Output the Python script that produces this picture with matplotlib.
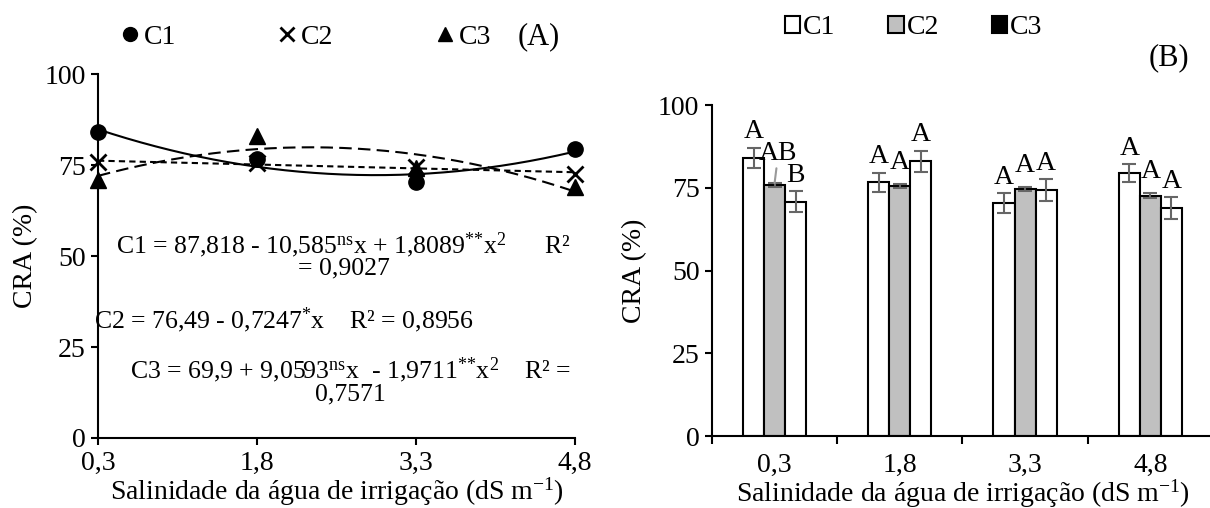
import numpy as np
import matplotlib
matplotlib.use("Agg")
import matplotlib.pyplot as plt
from matplotlib.lines import Line2D
from matplotlib.patches import Patch

plt.rcParams['font.family'] = ['Liberation Serif', 'DejaVu Serif']
plt.rcParams['mathtext.fontset'] = 'custom'
plt.rcParams['mathtext.rm'] = 'Liberation Serif'
plt.rcParams['mathtext.it'] = 'Liberation Serif:italic'
plt.rcParams['font.size'] = 20

# --- data ---
salinity = [0.3, 1.8, 3.3, 4.8]
tick_labels = ['0,3', '1,8', '3,3', '4,8']
series = ['C1', 'C2', 'C3']

c1 = [84.1, 76.6, 70.4, 79.4]
c2 = [75.8, 75.5, 74.5, 72.6]
c3 = [70.8, 83.0, 74.3, 68.9]

c1_err = [3.0, 2.9, 2.9, 2.8]
c2_err = [0.6, 0.6, 0.6, 0.7]
c3_err = [3.2, 3.2, 3.2, 3.2]

c1_letters = ['A', 'A', 'A', 'A']
c2_letters = ['AB', 'A', 'A', 'A']
c3_letters = ['B', 'A', 'A', 'A']

eq_c1 = r"C1 = 87,818 - 10,585$^{\mathrm{ns}}$x + 1,8089$^{{*}{*}}$x$^{2}$      R²"
eq_c1b = "= 0,9027"
eq_c2 = r"C2 = 76,49 - 0,7247$^{*}$x    R² = 0,8956"
eq_c3 = r"C3 = 69,9 + 9,0593$^{\mathrm{ns}}$x  - 1,9711$^{{*}{*}}$x$^{2}$    R² ="
eq_c3b = "0,7571"
x_title = "Salinidade da água de irrigação (dS m$^{\\mathrm{-1}}$)"

fig = plt.figure(figsize=(12.1, 5.08), dpi=100)

# ---------------- panel A: scatter + trend lines ----------------
ax1 = fig.add_axes([0.081, 0.1378, 0.3942, 0.7165])
xs = np.linspace(0.3, 4.8, 200)
fit1 = np.polyfit(salinity, c1, 2)
fit2 = np.polyfit(salinity, c2, 1)
fit3 = np.polyfit(salinity, c3, 2)
ax1.plot(xs, np.polyval(fit1, xs), color='black', lw=1.5, ls='-')
ax1.plot(xs, np.polyval(fit2, xs), color='black', lw=1.5, ls=(0, (3, 2)))
ax1.plot(xs, np.polyval(fit3, xs), color='black', lw=1.5, ls=(0, (6, 3)))
ax1.plot(salinity, c1, 'o', color='black', ms=11, clip_on=False, zorder=4)
ax1.plot(salinity, c2, 'x', color='black', ms=11, mew=2, clip_on=False, zorder=4)
ax1.plot(salinity, c3, '^', color='black', ms=11, clip_on=False, zorder=4)

ax1.set_xlim(0.3, 4.8)
ax1.set_ylim(0, 100)
ax1.set_xticks(salinity)
ax1.set_xticklabels(tick_labels)
ax1.set_yticks([0, 25, 50, 75, 100])
ax1.set_ylabel('CRA (%)', labelpad=4)
ax1.set_xlabel(x_title, labelpad=0)
for s in ['top', 'right']:
    ax1.spines[s].set_visible(False)
for s in ['left', 'bottom']:
    ax1.spines[s].set_linewidth(1.5)
ax1.tick_params(direction='out', length=5, width=1.5, pad=4)

ax1.text(2.62, 53.0, eq_c1, ha='center', va='center', fontsize=18.5)
ax1.text(2.62, 46.5, eq_c1b, ha='center', va='center', fontsize=18.5)
ax1.text(2.05, 32.4, eq_c2, ha='center', va='center', fontsize=18.5)
ax1.text(2.68, 18.6, eq_c3, ha='center', va='center', fontsize=18.5)
ax1.text(2.68, 11.9, eq_c3b, ha='center', va='center', fontsize=18.5)

handles_a = [Line2D([], [], marker='o', color='black', ls='none', ms=10),
             Line2D([], [], marker='x', color='black', ls='none', ms=10, mew=2),
             Line2D([], [], marker='^', color='black', ls='none', ms=10)]
fig.legend(handles_a, series, loc='center', bbox_to_anchor=(0.252, 0.927), ncol=3,
           frameon=False, handlelength=0.8, handletextpad=0.1, columnspacing=3.6,
           fontsize=20)
fig.text(0.445, 0.927, '(A)', ha='center', va='center', fontsize=22)

# ---------------- panel B: grouped bars ----------------
ax2 = fig.add_axes([0.5884, 0.1417, 0.414, 0.6516])
pos = np.arange(len(salinity))
w = 0.168
vals = [c1, c2, c3]
errs = [c1_err, c2_err, c3_err]
letters = [c1_letters, c2_letters, c3_letters]
faces = ['white', '#c0c0c0', 'white']
for i in range(3):
    xb = pos + (i - 1) * w
    ax2.bar(xb, vals[i], w, color=faces[i], edgecolor='black', lw=1.5, zorder=2)
    ax2.errorbar(xb, vals[i], yerr=errs[i], fmt='none', ecolor='#666666',
                 elinewidth=1.5, capsize=5, capthick=1.5, zorder=3)
    for j in range(len(pos)):
        top = vals[i][j] + errs[i][j]
        if letters[i][j] == 'AB':
            ax2.annotate(letters[i][j], xy=(xb[j], top), xytext=(xb[j] + 0.03, 85.5),
                         ha='center', va='center', fontsize=20,
                         arrowprops=dict(arrowstyle='-', color='#999999', lw=1.5,
                                         shrinkA=0, shrinkB=0))
        else:
            pad = 4.8 if errs[i][j] > 1 else 6.5
            ax2.text(xb[j], top + pad, letters[i][j], ha='center', va='center',
                     fontsize=20)

ax2.set_xlim(-0.5, 3.5)
ax2.set_ylim(0, 100)
ax2.set_yticks([0, 25, 50, 75, 100])
ax2.set_xticks(pos)
ax2.set_xticklabels(tick_labels)
ax2.set_xticks(np.arange(-0.5, 4, 1), minor=True)
ax2.tick_params(axis='x', which='major', length=0, pad=12)
ax2.tick_params(axis='x', which='minor', direction='out', length=6, width=1.5)
ax2.tick_params(axis='y', direction='out', length=5, width=1.5, pad=4)
ax2.set_ylabel('CRA (%)', labelpad=8)
ax2.set_xlabel(x_title, labelpad=0)
for s in ['top', 'right']:
    ax2.spines[s].set_visible(False)
for s in ['left', 'bottom']:
    ax2.spines[s].set_linewidth(1.5)

handles_b = [Patch(facecolor='white', edgecolor='black', lw=1.5),
             Patch(facecolor='#c0c0c0', edgecolor='black', lw=1.5),
             Patch(facecolor='black', edgecolor='black', lw=1.5)]
fig.legend(handles_b, series, loc='center', bbox_to_anchor=(0.755, 0.945), ncol=3,
           frameon=False, handlelength=0.55, handleheight=0.55, handletextpad=0.1,
           columnspacing=1.9, fontsize=20)
fig.text(0.966, 0.886, '(B)', ha='center', va='center', fontsize=22)

fig.savefig('out.png', dpi=100)
